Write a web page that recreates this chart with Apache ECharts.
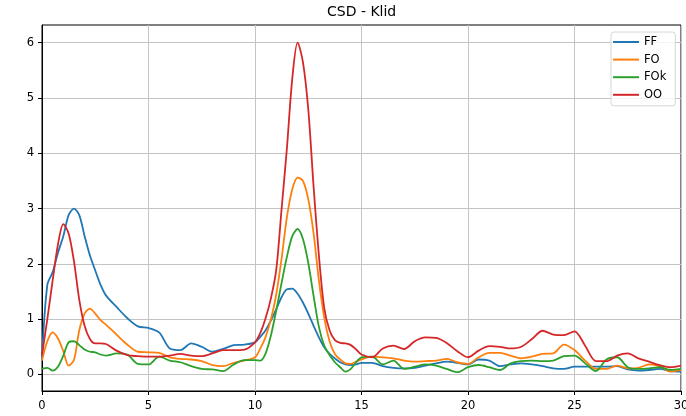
<!DOCTYPE html>
<html>
<head>
<meta charset="utf-8">
<title>CSD - Klid</title>
<script src="https://cdn.jsdelivr.net/npm/echarts@6/dist/echarts.min.js"></script>
<style>
  html, body { margin: 0; padding: 0; background: #ffffff; }
  #chart { width: 686px; height: 416px; }
</style>
</head>
<body>
<div id="chart"></div>
<script>
// Frequency axis samples (finer spacing where the curves change fast)
const xs = [
  0, 0.25, 0.5, 0.75, 1, 1.25, 1.5, 1.75, 2, 2.25, 2.5, 2.75, 3,
  3.5, 4, 4.5, 5, 5.5, 6, 6.5, 7, 7.5, 8, 8.5, 9, 9.5, 10,
  10.25, 10.5, 10.75, 11, 11.25, 11.5, 11.75, 12, 12.25, 12.5, 12.75, 13, 13.25, 13.5, 13.75, 14, 14.25, 14.5, 14.75, 15,
  15.5, 16, 16.5, 17, 17.5, 18, 18.5, 19, 19.5, 20, 20.5, 21, 21.5, 22, 22.5, 23, 23.5, 24, 24.5, 25, 25.5, 26, 26.5, 27, 27.5, 28, 28.5, 29, 29.5, 30
];

const ff = [
  0.30, 1.62, 1.85, 2.20, 2.50, 2.88, 3.00, 2.88, 2.50, 2.15, 1.88, 1.62, 1.43,
  1.22, 1.02, 0.87, 0.84, 0.76, 0.47, 0.44, 0.56, 0.50, 0.41, 0.46, 0.53, 0.54, 0.58,
  0.68, 0.80, 0.98, 1.18, 1.40, 1.54, 1.55, 1.46, 1.30, 1.10, 0.88, 0.67, 0.49, 0.37, 0.29, 0.22, 0.18, 0.17, 0.18, 0.21,
  0.21, 0.15, 0.12, 0.11, 0.12, 0.16, 0.20, 0.23, 0.21, 0.18, 0.27, 0.25, 0.15, 0.18, 0.20, 0.18, 0.15, 0.11, 0.10, 0.14, 0.14, 0.14, 0.14, 0.15, 0.09, 0.07, 0.08, 0.10, 0.06, 0.05
];

const fo = [
  0.25, 0.60, 0.76, 0.65, 0.42, 0.16, 0.26, 0.80, 1.10, 1.19, 1.10, 0.98, 0.90,
  0.72, 0.54, 0.41, 0.40, 0.39, 0.31, 0.28, 0.27, 0.24, 0.17, 0.15, 0.21, 0.25, 0.31,
  0.47, 0.68, 1.00, 1.45, 2.10, 2.85, 3.35, 3.56, 3.50, 3.17, 2.55, 1.70, 1.03, 0.60, 0.37, 0.27, 0.20, 0.19, 0.23, 0.27,
  0.32, 0.31, 0.29, 0.25, 0.23, 0.24, 0.25, 0.28, 0.22, 0.19, 0.31, 0.39, 0.39, 0.34, 0.29, 0.32, 0.37, 0.38, 0.54, 0.44, 0.25, 0.10, 0.10, 0.16, 0.11, 0.12, 0.18, 0.15, 0.05, 0.08
];

const fok = [
  0.10, 0.12, 0.07, 0.14, 0.34, 0.58, 0.60, 0.53, 0.45, 0.41, 0.40, 0.36, 0.34,
  0.38, 0.36, 0.19, 0.18, 0.32, 0.25, 0.22, 0.15, 0.10, 0.09, 0.06, 0.18, 0.26, 0.26,
  0.25, 0.38, 0.71, 1.16, 1.66, 2.13, 2.50, 2.63, 2.45, 2.02, 1.42, 0.86, 0.52, 0.35, 0.22, 0.13, 0.05, 0.10, 0.22, 0.31,
  0.32, 0.18, 0.25, 0.10, 0.14, 0.18, 0.16, 0.10, 0.04, 0.13, 0.17, 0.13, 0.08, 0.20, 0.24, 0.25, 0.24, 0.25, 0.33, 0.34, 0.20, 0.06, 0.27, 0.31, 0.13, 0.10, 0.11, 0.13, 0.08, 0.10
];

const oo = [
  0.35, 1.00, 1.70, 2.35, 2.72, 2.55, 2.05, 1.35, 0.88, 0.64, 0.56, 0.56, 0.55,
  0.43, 0.35, 0.33, 0.32, 0.32, 0.34, 0.37, 0.34, 0.33, 0.38, 0.44, 0.44, 0.45, 0.58,
  0.75, 1.02, 1.38, 1.90, 3.00, 4.10, 5.35, 6.00, 5.65, 4.80, 3.40, 2.15, 1.20, 0.80, 0.62, 0.57, 0.56, 0.53, 0.45, 0.36,
  0.31, 0.47, 0.52, 0.46, 0.60, 0.67, 0.66, 0.57, 0.42, 0.31, 0.43, 0.51, 0.50, 0.47, 0.50, 0.64, 0.79, 0.72, 0.71, 0.78, 0.52, 0.24, 0.24, 0.34, 0.38, 0.29, 0.23, 0.17, 0.13, 0.16
];

const seriesNames = ['FF', 'FO', 'FOk', 'OO'];
const seriesValues = [ff, fo, fok, oo];
const seriesColors = ['#1f77b4', '#ff7f0e', '#2ca02c', '#d62728'];

const xTicks = [0, 5, 10, 15, 20, 25, 30];
const yTicks = [0, 1, 2, 3, 4, 5, 6];

const FONT = 'DejaVu Sans';
const GRID_COLOR = '#c4c4c4';

const chart = echarts.init(document.getElementById('chart'), null, { renderer: 'canvas' });

const option = {
  animation: false,
  backgroundColor: '#ffffff',
  title: {
    text: 'CSD - Klid',
    left: 327,
    top: 5,
    padding: 0,
    textStyle: { fontFamily: FONT, fontSize: 14, fontWeight: 'normal', color: '#000' }
  },
  legend: {
    orient: 'vertical',
    left: 611,
    top: 32,
    padding: [3, 9, 4, 2],
    itemGap: 3.6,
    itemWidth: 26,
    itemHeight: 2,
    itemTextGap: 8,
    icon: 'rect',
    backgroundColor: 'rgba(255,255,255,0.8)',
    borderColor: '#d6d6d6',
    borderWidth: 1,
    borderRadius: 3,
    textStyle: { fontFamily: FONT, fontSize: 11.5, color: '#000', lineHeight: 14 },
    data: seriesNames
  },
  grid: {
    left: 42, right: 5, top: 25, bottom: 25,
    outerBoundsMode: 'none',
    containLabel: false,
    show: true,
    borderColor: '#000',
    borderWidth: 1,
    backgroundColor: 'transparent'
  },
  xAxis: {
    type: 'value',
    min: 0, max: 30, interval: 5,
    axisLine: { show: true, onZero: false, lineStyle: { color: '#000', width: 1 } },
    axisTick: { show: true, length: 4, lineStyle: { color: '#000' }, customValues: xTicks },
    axisLabel: { fontFamily: FONT, fontSize: 11.5, color: '#000', margin: 9, customValues: xTicks, hideOverlap: false },
    splitLine: { show: true, lineStyle: { color: GRID_COLOR, width: 1 } }
  },
  yAxis: {
    type: 'value',
    min: -0.3, max: 6.32,
    splitNumber: 6,
    axisLine: { show: true, onZero: false, lineStyle: { color: '#000', width: 1 } },
    axisTick: { show: true, length: 4, lineStyle: { color: '#000' }, customValues: yTicks },
    axisLabel: { fontFamily: FONT, fontSize: 11.5, color: '#000', margin: 8, customValues: yTicks },
    splitLine: { show: true, lineStyle: { color: GRID_COLOR, width: 1 } }
  },
  series: seriesNames.map((name, k) => ({
    name: name,
    type: 'line',
    data: xs.map((x, i) => [x, seriesValues[k][i]]),
    showSymbol: false,
    symbol: 'none',
    smooth: 0.3,
    clip: true,
    lineStyle: { color: seriesColors[k], width: 1.8 },
    itemStyle: { color: seriesColors[k] },
    z: 2 + k
  }))
};

chart.setOption(option);
</script>
</body>
</html>
